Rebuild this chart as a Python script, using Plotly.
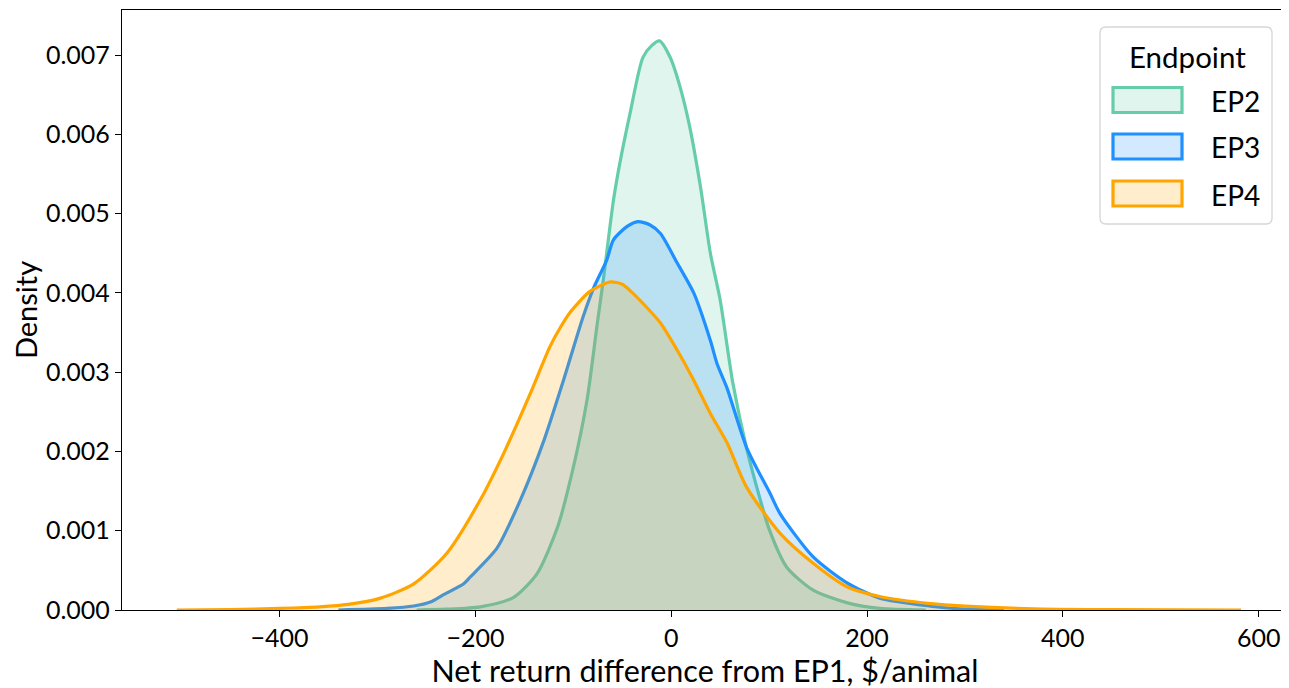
import plotly.graph_objects as go

# ---- data (density values, in units of 1e-3) ----
ep2_x = [-260, -230, -195, -161, -137, -116, -100, -86, -76, -69, -59, -52, -42, -29, -20, -12,
         -1, 9, 19, 30, 40, 50, 63, 77, 91, 100, 118, 145, 180, 213, 260]
ep2_y = [0.0, 0.01, 0.04, 0.16, 0.46, 1.05, 1.80, 2.65, 3.57, 4.20, 5.17, 5.67, 6.27, 6.97, 7.12, 7.18,
         6.97, 6.60, 6.09, 5.33, 4.50, 3.91, 2.86, 2.04, 1.39, 1.02, 0.54, 0.25, 0.09, 0.02, 0.0]

ep3_x = [-340, -290, -263, -246, -233, -212, -205, -178, -154, -130, -110, -90, -79, -66, -59, -45,
         -34, -22, -11, 6, 23, 40, 47, 57, 77, 101, 111, 145, 180, 213, 265, 300, 340]
ep3_y = [0.0, 0.02, 0.05, 0.10, 0.19, 0.33, 0.42, 0.78, 1.39, 2.14, 2.90, 3.70, 4.07, 4.41, 4.67, 4.84,
         4.90, 4.86, 4.75, 4.38, 4.00, 3.40, 3.10, 2.80, 2.05, 1.47, 1.22, 0.67, 0.34, 0.15, 0.05, 0.01, 0.0]

ep4_x = [-505, -450, -400, -359, -330, -297, -263, -229, -195, -171, -144, -124, -113, -103, -83,
         -62, -50, -42, -29, -11, 6, 23, 40, 57, 77, 111, 145, 180, 213, 265, 300, 370, 450, 582]
ep4_y = [0.0, 0.005, 0.02, 0.04, 0.07, 0.15, 0.33, 0.72, 1.39, 1.98, 2.73, 3.32, 3.57, 3.76, 4.02,
         4.14, 4.11, 4.03, 3.87, 3.62, 3.28, 2.90, 2.48, 2.11, 1.55, 0.97, 0.59, 0.29, 0.17, 0.08, 0.05,
         0.015, 0.005, 0.0]

names = ["EP2", "EP3", "EP4"]
line_colors = ["#66CDAA", "#1E90FF", "#FFA500"]
fill_colors = ["rgba(102,205,170,0.2)", "rgba(30,144,255,0.2)", "rgba(255,165,0,0.2)"]
xs_all = [ep2_x, ep3_x, ep4_x]
ys_all = [ep2_y, ep3_y, ep4_y]

x_ticks = [-400, -200, 0, 200, 400, 600]
x_tick_text = ["\u2212400", "\u2212200", "0", "200", "400", "600"]
y_ticks = [0.000, 0.001, 0.002, 0.003, 0.004, 0.005, 0.006, 0.007]
legend_title = "Endpoint"

fig = go.Figure()
for name, xs, ys, lc, fc in zip(names, xs_all, ys_all, line_colors, fill_colors):
    fig.add_trace(go.Scatter(
        x=xs, y=[v / 1000 for v in ys], name=name, mode="lines",
        line=dict(color=lc, width=3.2, shape="spline", smoothing=0.7),
        fill="tozeroy", fillcolor=fc, showlegend=False,
    ))

FONT = "Lato, 'Open Sans', sans-serif"

# plot area in screen pixels (page has an 8px body margin)
PX0, PX1, PY0, PY1 = 122, 1288, 10, 610


def px(xs):
    return (xs - PX0) / (PX1 - PX0)


def py(ys):
    return (PY1 - ys) / (PY1 - PY0)


shapes = []
annotations = []
# legend frame with rounded corners
lx0, lx1, ly0, ly1, r = 1100, 1272, 27, 224, 6
path = (f"M {px(lx0 + r)},{py(ly0)} L {px(lx1 - r)},{py(ly0)} Q {px(lx1)},{py(ly0)} {px(lx1)},{py(ly0 + r)} "
        f"L {px(lx1)},{py(ly1 - r)} Q {px(lx1)},{py(ly1)} {px(lx1 - r)},{py(ly1)} "
        f"L {px(lx0 + r)},{py(ly1)} Q {px(lx0)},{py(ly1)} {px(lx0)},{py(ly1 - r)} "
        f"L {px(lx0)},{py(ly0 + r)} Q {px(lx0)},{py(ly0)} {px(lx0 + r)},{py(ly0)} Z")
shapes.append(dict(type="path", xref="paper", yref="paper", path=path,
                   fillcolor="rgba(255,255,255,0.85)", line=dict(color="#d6d6d6", width=1.3), layer="above"))
annotations.append(dict(xref="paper", yref="paper", x=px(1187), y=py(56), text=legend_title,
                        showarrow=False, xanchor="center", yanchor="middle", font=dict(size=29.5)))
row_y = [100, 146.5, 193.5]
for name, lc, fc, yc in zip(names, line_colors, fill_colors, row_y):
    shapes.append(dict(type="rect", xref="paper", yref="paper",
                       x0=px(1113), x1=px(1182), y0=py(yc - 12.5), y1=py(yc + 12.5),
                       fillcolor=fc, line=dict(color=lc, width=3.2), layer="above"))
    annotations.append(dict(xref="paper", yref="paper", x=px(1209), y=py(yc + 1), text=name,
                            showarrow=False, xanchor="left", yanchor="middle", font=dict(size=28)))

fig.update_layout(
    width=1281, height=680,
    margin=dict(l=114, r=1, t=2, b=78),
    paper_bgcolor="white", plot_bgcolor="white",
    font=dict(family=FONT, size=25, color="black"),
    showlegend=False,
    shapes=shapes, annotations=annotations,
)
fig.update_xaxes(
    range=[-561, 630], tickvals=x_ticks, ticktext=x_tick_text, automargin=False,
    showgrid=False, zeroline=False, showline=True, linecolor="black", linewidth=1.3, mirror=True,
    ticks="outside", ticklen=6, tickcolor="black", tickwidth=1.3,
    title=dict(text="Net return difference from EP1, $/animal", font=dict(size=30.5), standoff=0),
)
fig.update_yaxes(
    range=[0, 0.00757], tickvals=y_ticks, tickformat=".3f", automargin=False,
    showgrid=False, zeroline=False, showline=True, linecolor="black", linewidth=1.3, mirror=True,
    ticks="outside", ticklen=6, tickcolor="black", tickwidth=1.3,
    title=dict(text="Density", font=dict(size=29), standoff=6),
)

fig.write_html("out.html")
